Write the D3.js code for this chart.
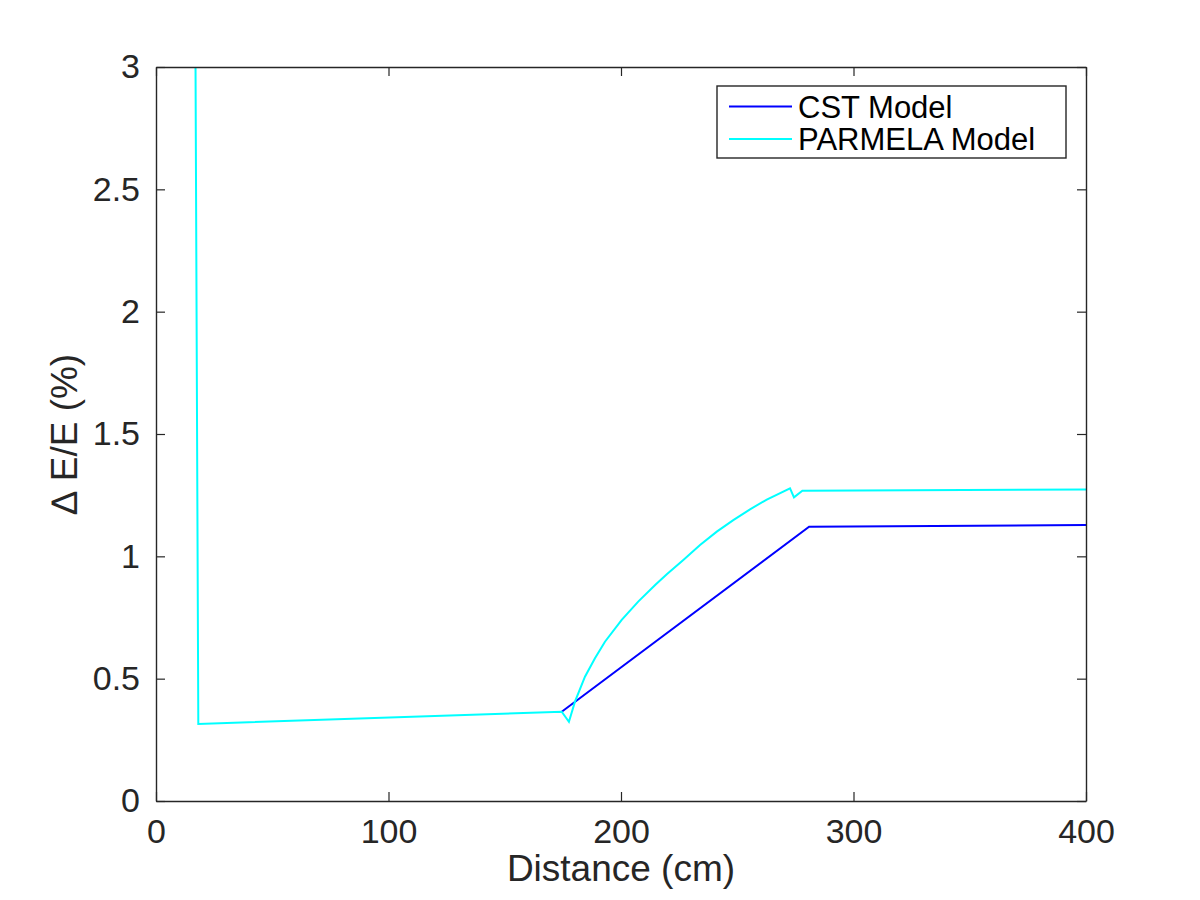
<!DOCTYPE html>
<html>
<head>
<meta charset="utf-8">
<script src="https://cdn.jsdelivr.net/npm/d3@7"></script>
<style>
  body { margin: 0; background: #fff; overflow: hidden; }
  svg { display: block; }
  text { font-family: 'Liberation Sans', Arial, Helvetica, sans-serif; fill: #262626; }
</style>
</head>
<body>
<svg></svg>
<script>
// distance (cm) and dE/E (%)
const cstX = [174.5, 280.9, 400];
const cstY = [0.365, 1.121, 1.128];

const parmelaX = [17.0, 18.2, 174.5, 177.6, 180.2, 184.5, 188.8, 193.1, 200.3, 207.4, 214.8,
	219.7, 226.8, 234.0, 241.2, 248.3, 255.5, 262.7, 272.7, 274.4, 278.0, 400];
const parmelaY = [3.0, 0.315, 0.365, 0.324, 0.406, 0.508, 0.583, 0.651, 0.740, 0.815, 0.884,
	0.927, 0.985, 1.046, 1.101, 1.148, 1.192, 1.232, 1.278, 1.241, 1.268, 1.273];

const xTicks = [0, 100, 200, 300, 400];
const yTicks = [0, 0.5, 1, 1.5, 2, 2.5, 3];
const seriesNames = ['CST Model', 'PARMELA Model'];
const seriesColors = ['#0000ff', '#00ffff'];

const svg = d3.select('svg')
	.attr('width', 1200)
	.attr('height', 900);

const margin = { top: 67, right: 114, bottom: 99, left: 156 },
	innerWidth = 1200 - margin.left - margin.right,
	innerHeight = 900 - margin.top - margin.bottom;

const xScale = d3.scaleLinear().domain([0, 400]).range([0, innerWidth]);
const yScale = d3.scaleLinear().domain([0, 3]).range([innerHeight, 0]);

const g = svg.append('g')
	.attr('transform', `translate(${margin.left}, ${margin.top})`);

g.append('clipPath').attr('id', 'clip')
	.append('rect').attr('width', innerWidth).attr('height', innerHeight);

const line = d3.line()
	.x(d => xScale(d[0]))
	.y(d => yScale(d[1]));

const series = [
	d3.zip(cstX, cstY),
	d3.zip(parmelaX, parmelaY)
];

g.selectAll('path.series')
	.data(series)
	.enter()
	.append('path')
		.attr('class', 'series')
		.attr('clip-path', 'url(#clip)')
		.attr('d', line)
		.attr('fill', 'none')
		.attr('stroke', (d, i) => seriesColors[i])
		.attr('stroke-width', 2);

// axes, ticks pointing inward on all four sides
const styleAxis = sel => {
	sel.selectAll('.domain').attr('stroke', '#262626').attr('stroke-width', 1.4);
	sel.selectAll('.tick line').attr('stroke', '#262626').attr('stroke-width', 1.2);
	sel.selectAll('.tick text')
		.attr('font-size', 34)
		.attr('fill', '#262626')
		.style('font-family', "'Liberation Sans', Arial, sans-serif");
};

// top and right axes only carry tick marks
const ticksOnly = sel => {
	sel.selectAll('.tick text').remove();
	styleAxis(sel);
};

g.append('g')
	.attr('transform', `translate(0, ${innerHeight})`)
	.call(d3.axisBottom(xScale).tickValues(xTicks).tickSizeInner(-9).tickSizeOuter(0).tickPadding(18))
	.call(styleAxis);

g.append('g')
	.call(d3.axisTop(xScale).tickValues(xTicks).tickSizeInner(-9).tickSizeOuter(0))
	.call(ticksOnly);

g.append('g')
	.call(d3.axisLeft(yScale).tickValues(yTicks).tickSizeInner(-9).tickSizeOuter(0).tickPadding(16)
		.tickFormat(d => String(d)))
	.call(styleAxis);

g.append('g')
	.attr('transform', `translate(${innerWidth}, 0)`)
	.call(d3.axisRight(yScale).tickValues(yTicks).tickSizeInner(-9).tickSizeOuter(0))
	.call(ticksOnly);

g.append('text')
	.attr('x', innerWidth / 2)
	.attr('y', innerHeight + 80)
	.attr('text-anchor', 'middle')
	.attr('font-size', 37)
	.text('Distance (cm)');

g.append('text')
	.attr('transform', 'rotate(-90)')
	.attr('x', -innerHeight / 2)
	.attr('y', -79)
	.attr('text-anchor', 'middle')
	.attr('font-size', 37)
	.text('\u2206 E/E (%)');

// legend
const legend = g.append('g')
	.attr('transform', `translate(${717 - margin.left}, ${86 - margin.top})`);

legend.append('rect')
	.attr('width', 349)
	.attr('height', 72)
	.attr('fill', '#fff')
	.attr('stroke', '#262626')
	.attr('stroke-width', 1.4);

const item = legend.selectAll('g.item')
	.data(seriesNames)
	.enter()
	.append('g')
		.attr('class', 'item')
		.attr('transform', (d, i) => `translate(0, ${20.5 + i * 32.5})`);

item.append('line')
	.attr('x1', 12).attr('x2', 75)
	.attr('stroke', (d, i) => seriesColors[i])
	.attr('stroke-width', 2);

item.append('text')
	.attr('x', 81)
	.attr('y', 11)
	.attr('font-size', 31)
	.style('fill', '#000')
	.text(d => d);
</script>
</body>
</html>
